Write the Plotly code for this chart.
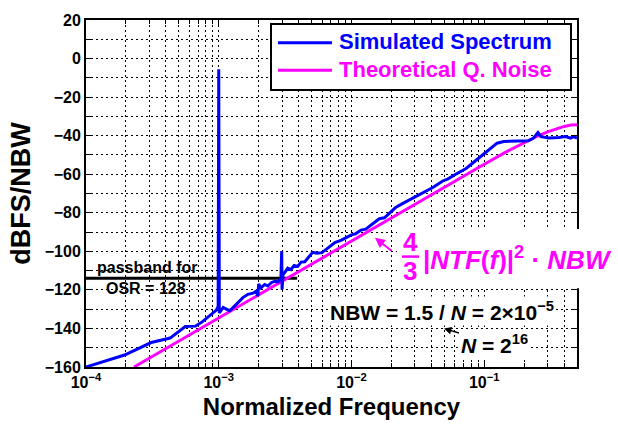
import plotly.graph_objects as go

# ---- data -------------------------------------------------------------
# Simulated output spectrum of the modulator (normalized frequency, dBFS/NBW)
sim_freq = [1.0e-4, 1.95e-4, 3.1e-4, 4.3e-4, 5.6e-4, 6.7e-4, 7.5e-4, 8.5e-4, 9.6e-4,
            9.9e-4, 1.0e-3, 1.01e-3, 1.08e-3, 1.14e-3, 1.21e-3, 1.36e-3, 1.52e-3,
            1.66e-3, 1.81e-3, 1.92e-3, 1.97e-3, 2.0e-3, 2.08e-3, 2.22e-3, 2.34e-3,
            2.49e-3, 2.64e-3, 2.8e-3, 2.94e-3, 2.98e-3, 3.0e-3, 3.05e-3, 3.13e-3,
            3.31e-3, 3.5e-3, 3.7e-3, 3.94e-3, 4.17e-3, 4.45e-3, 5.1e-3, 5.5e-3,
            6.0e-3, 6.8e-3, 7.5e-3, 8.4e-3, 9.1e-3, 9.9e-3, 1.08e-2, 1.18e-2,
            1.28e-2, 1.44e-2, 1.62e-2, 1.77e-2, 1.99e-2, 2.15e-2, 2.4e-2, 2.8e-2,
            3.15e-2, 3.5e-2, 4.1e-2, 4.87e-2, 5.3e-2, 6.1e-2, 7.3e-2, 8.6e-2,
            0.1, 0.109, 0.125, 0.14, 0.17, 0.215, 0.235, 0.254, 0.267, 0.306,
            0.365, 0.41, 0.447, 0.47, 0.5]
sim_db = [-160.0, -153.8, -147.3, -145.0, -139.0, -138.8, -136.6, -133.6, -130.5,
          -128.5, -5.6, -132.0, -129.1, -130.0, -130.8, -127.4, -124.0,
          -122.3, -121.7, -120.6, -123.2, -116.9, -119.0, -117.2, -118.0,
          -116.3, -115.5, -115.8, -113.8, -99.8, -119.8, -112.0, -111.2,
          -108.7, -109.5, -107.3, -107.8, -105.6, -105.4, -100.5, -101.0,
          -100.7, -97.6, -95.5, -94.2, -93.0, -91.6, -90.8, -89.0,
          -88.5, -85.7, -83.1, -82.6, -79.5, -77.3, -75.4, -72.9,
          -71.2, -69.5, -66.9, -63.5, -62.5, -60.0, -57.0, -53.0,
          -49.5, -47.3, -43.9, -43.0, -42.7, -42.7, -41.3, -38.4, -40.5, -41.2,
          -41.0, -40.5, -41.3, -40.5, -41.3]

# Theoretical quantization noise, 4/3 |NTF(f)|^2 * NBW
theo_freq = [2.3e-4, 1e-3, 1e-2, 3e-2, 6e-2, 0.1, 0.15, 0.2, 0.25, 0.3, 0.35, 0.4, 0.45, 0.5]
theo_db = [-160.0, -134.5, -94.5, -75.4, -63.5, -54.8, -48.0, -43.5, -40.3, -38.0,
           -36.3, -35.2, -34.5, -34.3]

# Passband edge for OSR = 128 and the level of the marker line
passband_freq = [1e-4, 0.0039]
passband_db = [-114, -114]

# Tick positions and labels
x_major = [1e-4, 1e-3, 1e-2, 1e-1]
x_major_text = ["10<sup>\u22124</sup>", "10<sup>\u22123</sup>",
                "10<sup>\u22122</sup>", "10<sup>\u22121</sup>"]
x_minor = [2e-4, 3e-4, 4e-4, 5e-4, 6e-4, 7e-4, 8e-4, 9e-4,
           2e-3, 3e-3, 4e-3, 5e-3, 6e-3, 7e-3, 8e-3, 9e-3,
           2e-2, 3e-2, 4e-2, 5e-2, 6e-2, 7e-2, 8e-2, 9e-2,
           2e-1, 3e-1, 4e-1, 5e-1]
y_major = [-160, -140, -120, -100, -80, -60, -40, -20, 0, 20]
y_minor = [-150, -130, -110, -90, -70, -50, -30, -10, 10]

BLUE = "#0000FF"
MAGENTA = "#FF00FF"
FONT = "Liberation Sans, Arial, Helvetica, sans-serif"

# ---- plot-area geometry (pixels) --------------------------------------
WIDTH, HEIGHT = 618, 428
L, R, T, B = 86, 577, 15, 367


def px(x):
    return (x - L) / (R - L)


def py(y):
    return (B - y) / (B - T)


fig = go.Figure()
fig.add_trace(go.Scatter(x=passband_freq, y=passband_db, mode="lines",
                         line=dict(color="black", width=3), showlegend=False))
fig.add_trace(go.Scatter(x=theo_freq, y=theo_db, mode="lines",
                         line=dict(color=MAGENTA, width=3),
                         name="Theoretical Q. Noise", showlegend=False))
fig.add_trace(go.Scatter(x=sim_freq, y=sim_db, mode="lines",
                         line=dict(color=BLUE, width=3),
                         name="Simulated Spectrum", showlegend=False))

GRID = dict(showgrid=True, gridcolor="black", gridwidth=1, griddash="2px,3px")
axis_common = dict(
    showline=True, linecolor="black", linewidth=2, mirror="ticks",
    ticks="inside", ticklen=5, tickcolor="black", tickwidth=1,
    zeroline=False,
    tickfont=dict(family=FONT, size=16, color="black"),
    **GRID,
)

fig.update_xaxes(
    type="log", range=[-4, -0.30103],
    tickmode="array", tickvals=x_major,
    ticktext=["<b>%s</b>" % t for t in x_major_text],
    minor=dict(tickmode="array", tickvals=x_minor, ticks="inside", ticklen=4,
               tickcolor="black", **GRID),
    title=dict(text="<b>Normalized Frequency</b>", standoff=8,
               font=dict(family=FONT, size=24, color="black")),
    **axis_common,
)
fig.update_yaxes(
    range=[-160, 20],
    tickmode="array", tickvals=y_major,
    ticktext=["<b>%s</b>" % str(v).replace("-", "\u2212") for v in y_major],
    minor=dict(tickmode="array", tickvals=y_minor, ticks="inside", ticklen=5,
               tickcolor="black", **GRID),
    title=dict(text="<b>dBFS/NBW</b>", standoff=6,
               font=dict(family=FONT, size=27, color="black")),
    **axis_common,
)

shapes = [
    # white panel behind the NTF formula
    dict(type="rect", xref="paper", yref="paper", layer="above",
         x0=px(397), x1=px(625), y0=py(287), y1=py(227),
         fillcolor="white", line=dict(width=0)),
    # legend frame
    dict(type="rect", xref="paper", yref="paper", layer="above",
         x0=px(271), x1=px(571), y0=py(86), y1=py(19),
         fillcolor="white", line=dict(color="black", width=2)),
    dict(type="line", xref="paper", yref="paper", layer="above",
         x0=px(278), x1=px(332), y0=py(38), y1=py(38),
         line=dict(color=BLUE, width=3)),
    dict(type="line", xref="paper", yref="paper", layer="above",
         x0=px(278), x1=px(332), y0=py(66), y1=py(66),
         line=dict(color=MAGENTA, width=3)),
    # fraction bar of 4/3
    dict(type="line", xref="paper", yref="paper", layer="above",
         x0=px(402), x1=px(419), y0=py(255), y1=py(255),
         line=dict(color=MAGENTA, width=2.5)),
]


def label(text, x, y, size, color="black", xanchor="center", **kw):
    return dict(text=text, xref="paper", yref="paper", x=px(x), y=py(y),
                xanchor=xanchor, yanchor="middle", showarrow=False,
                font=dict(family=FONT, size=size, color=color), **kw)


annotations = [
    label("<b>Simulated Spectrum</b>", 337, 37, 22, BLUE, xanchor="left"),
    label("<b>Theoretical Q. Noise</b>", 337, 65, 22, MAGENTA, xanchor="left"),
    label("<b>passband for</b>", 147, 266, 16),
    label("<b>OSR = 128</b>", 146, 287, 16),
    label("<b>NBW = 1.5 / <i>N</i> = 2\u00d710<sup>\u22125</sup></b>", 442, 310, 21,
          bgcolor="white", borderpad=1),
    label("<b>4</b>", 410, 240, 26, MAGENTA),
    label("<b>3</b>", 410, 270, 26, MAGENTA),
    label("<b>|<i>NTF</i>(<i>f</i>)|<sup>2</sup> \u00b7 <i>NBW</i></b>", 421, 257, 26,
          MAGENTA, xanchor="left"),
    # N = 2^16 with a small arrow pointing back at the N in the NBW line
    dict(text="<b><i>N</i> = 2<sup>16</sup></b>", xref="paper", yref="paper",
         x=px(444), y=py(328), ax=50, ay=15, axref="pixel", ayref="pixel",
         showarrow=True, arrowhead=2, arrowsize=1, arrowwidth=1.5,
         arrowcolor="black", bgcolor="white", borderpad=1,
         font=dict(family=FONT, size=21, color="black")),
    # arrow from the formula to the theoretical curve
    dict(text="", xref="paper", yref="paper", x=px(375), y=py(236),
         ax=18, ay=14, axref="pixel", ayref="pixel", showarrow=True,
         arrowhead=2, arrowsize=1, arrowwidth=2, arrowcolor=MAGENTA),
]

fig.update_layout(
    width=WIDTH, height=HEIGHT,
    margin=dict(l=L, r=WIDTH - R, t=T, b=HEIGHT - B),
    paper_bgcolor="white", plot_bgcolor="white",
    showlegend=False,
    shapes=shapes, annotations=annotations,
    font=dict(family=FONT, color="black"),
)

fig.write_html("out.html")
